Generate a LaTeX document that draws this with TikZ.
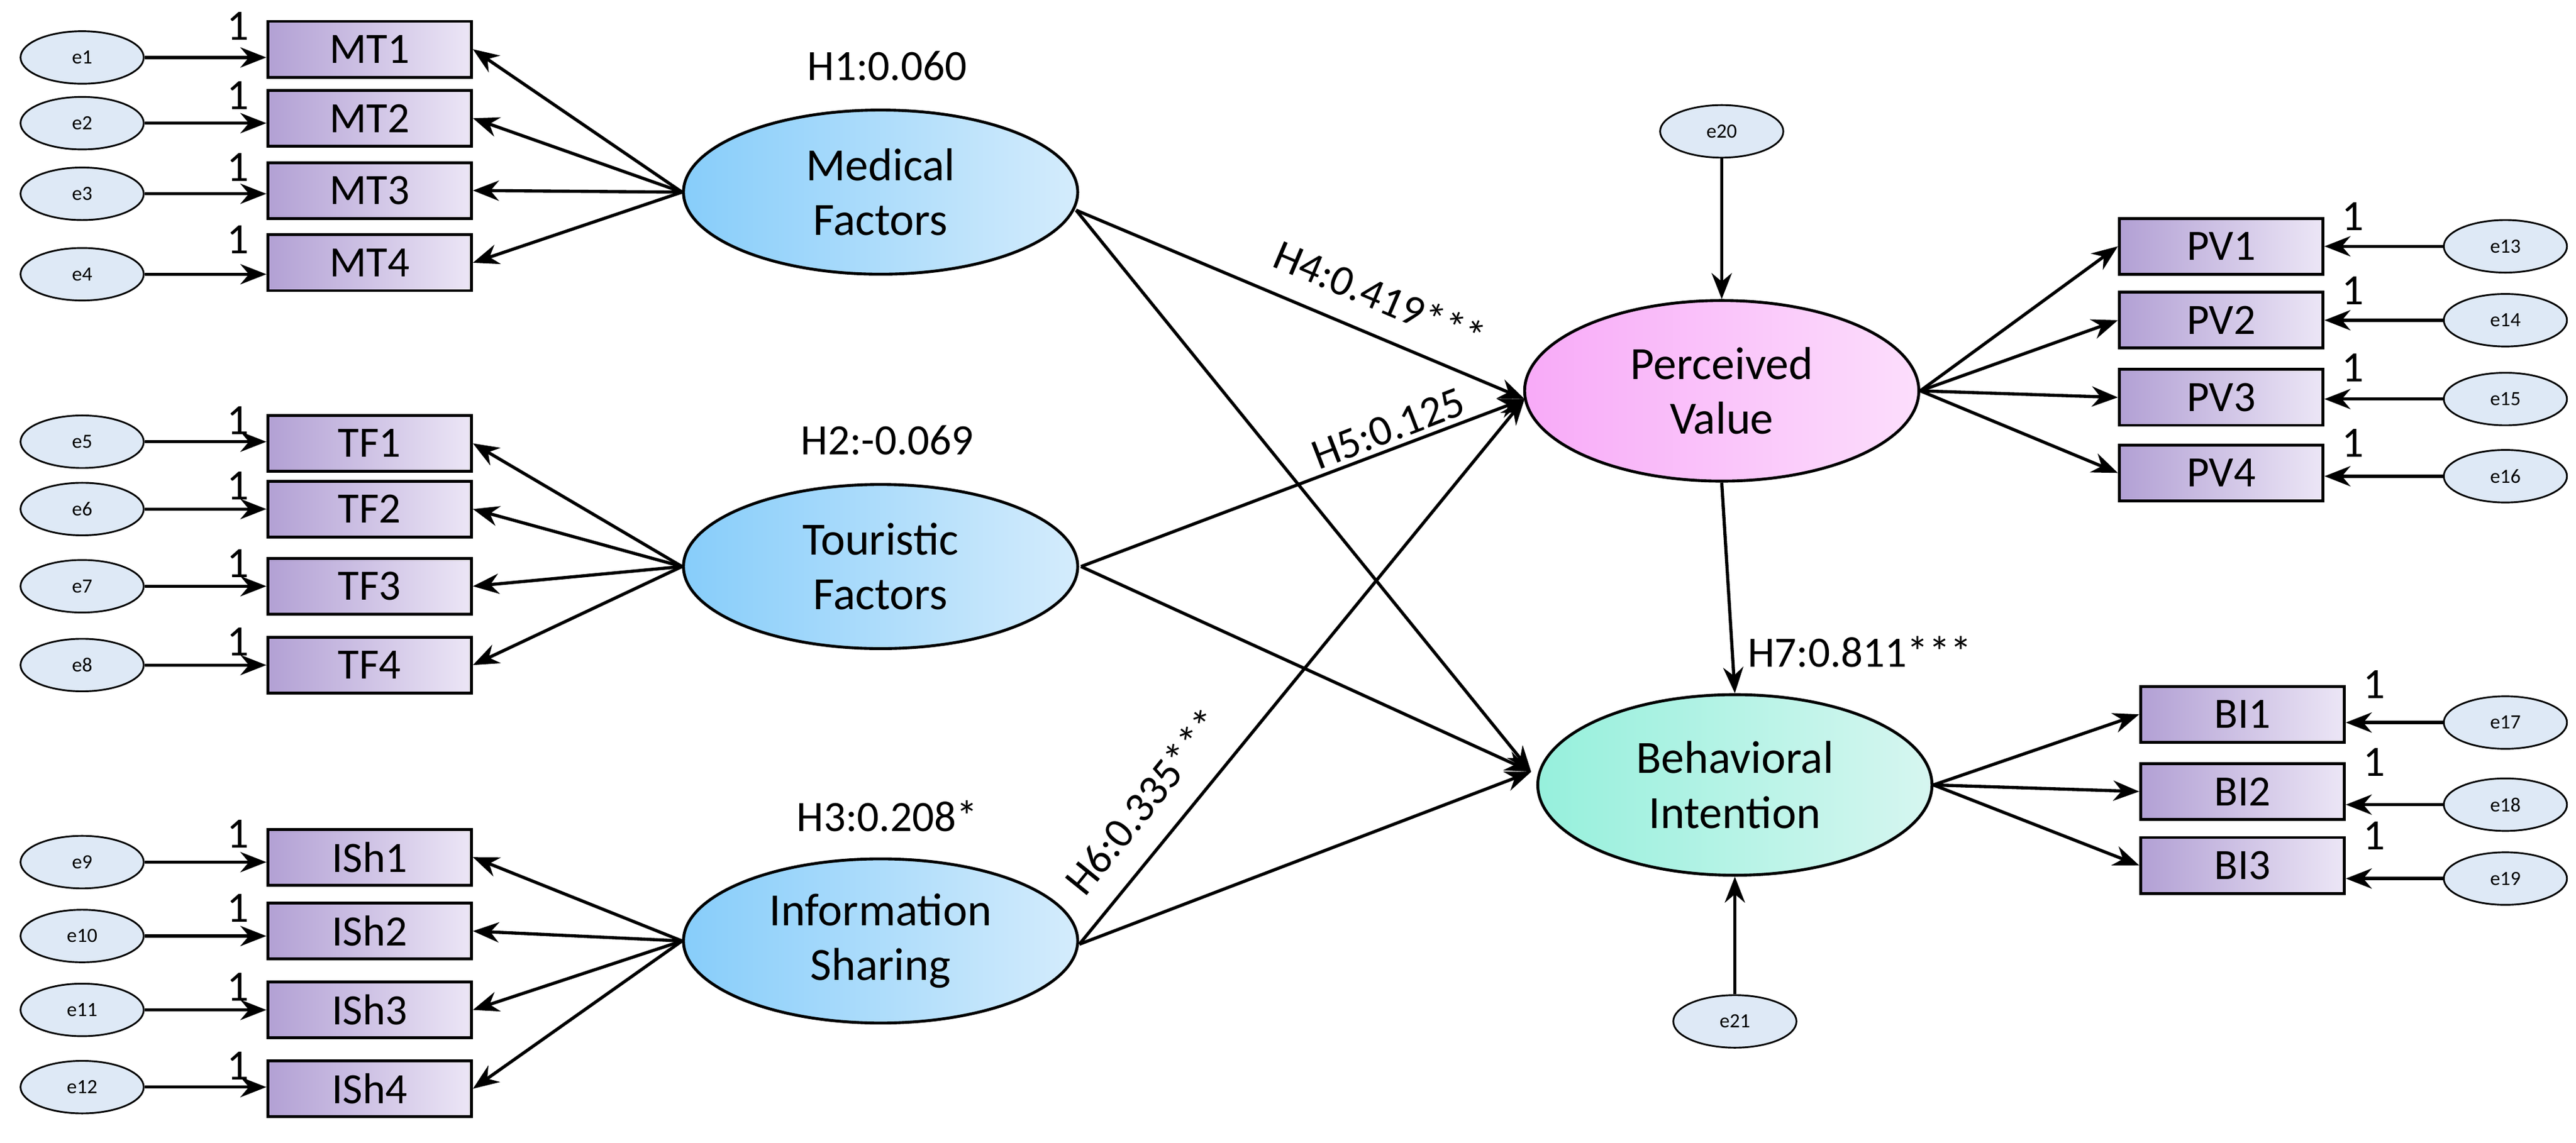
\documentclass[tikz,border=0pt]{standalone}
\usepackage{fontspec}
\setmainfont{Carlito}
\usetikzlibrary{arrows.meta,shapes.geometric}
\definecolor{boxL}{RGB}{178,160,212}
\definecolor{boxR}{RGB}{236,230,246}
\definecolor{errF}{RGB}{222,233,246}
\definecolor{bluL}{RGB}{135,205,250}
\definecolor{bluR}{RGB}{212,236,252}
\definecolor{pvL}{RGB}{248,170,248}
\definecolor{pvR}{RGB}{252,222,252}
\definecolor{biL}{RGB}{150,240,220}
\definecolor{biR}{RGB}{214,246,240}
\begin{document}
\begin{tikzpicture}[x=0.02cm,y=-0.02cm,
 box/.style={draw,line width=1pt,minimum width=2.48cm,minimum height=0.68cm,left color=boxL,right color=boxR,font=\fontsize{15}{15}\selectfont},
 err/.style={draw,ellipse,line width=0.6pt,minimum width=1.5cm,minimum height=0.64cm,fill=errF,font=\fontsize{7}{7}\selectfont},
 lat/.style={draw,ellipse,line width=1pt,minimum width=4.8cm,minimum height=2cm,align=center,font=\fontsize{16}{19}\selectfont},
 latb/.style={lat,left color=bluL,right color=bluR},
 arr/.style={-{Stealth[length=9pt,width=7pt]},line width=1.1pt},
 one/.style={font=\fontsize{15}{15}\selectfont},
 lab/.style={font=\fontsize{15}{15}\selectfont}]
\useasboundingbox (0,0) rectangle (1568,696);
% latent
\node[latb] (MF) at (536,117) {Medical\\Factors};
\node[latb] (TFa) at (536,345) {Touristic\\Factors};
\node[latb] (IS) at (536,573) {Information\\Sharing};
\node[lat,minimum height=2.2cm,left color=pvL,right color=pvR] (PV) at (1048,238) {Perceived\\Value};
\node[lat,minimum height=2.2cm,left color=biL,right color=biR] (BI) at (1056,478) {Behavioral\\Intention};
% left indicators
\foreach \n/\t/\y/\ey/\L in {1/MT1/30/35/MF,2/MT2/72/75/MF,3/MT3/116/118/MF,4/MT4/160/167/MF,
 5/TF1/270/269/TFa,6/TF2/310/310/TFa,7/TF3/357/357/TFa,8/TF4/405/405/TFa,
 9/ISh1/522/525/IS,10/ISh2/567/570/IS,11/ISh3/615/615/IS,12/ISh4/663/662/IS}{
 \node[box] (b\n) at (225,\y) {\t};
 \node[err] (e\n) at (50,\ey) {e\n};
 \draw[arr] (e\n) -- (b\n.west|-e\n);
 \node[one] at (145,\y-14) {1};
 \draw[arr] (\L.west) -- (b\n.east);
}
% right indicators
\foreach \n/\t/\y/\ey/\x/\L in {13/PV1/150/150/1352/PV,14/PV2/195/195/1352/PV,15/PV3/242/243/1352/PV,16/PV4/288/290/1352/PV,
 17/BI1/435/440/1365/BI,18/BI2/482/490/1365/BI,19/BI3/527/535/1365/BI}{
 \node[box] (b\n) at (\x,\y) {\t};
 \node[err] (e\n) at (1525,\ey) {e\n};
 \draw[arr] (e\n) -- (b\n.east|-e\n);
 \node[one] at (\x+80,\y-18) {1};
 \draw[arr] (\L.east) -- (b\n.west);
}
\node[err] (e20) at (1048,80) {e20};
\node[err] (e21) at (1056,622) {e21};
\draw[arr] (e20) -- (PV);
\draw[arr] (e21) -- (BI);
% structural
\coordinate (mfo) at (655,128);
\coordinate (tfo) at (658,345);
\coordinate (iso) at (657,575);
\coordinate (pvi) at (928,243);
\coordinate (bii) at (932,470);
\draw[arr] (mfo) -- (pvi);
\draw[arr] (mfo) -- (bii);
\draw[arr] (tfo) -- (pvi);
\draw[arr] (tfo) -- (bii);
\draw[arr] (iso) -- (pvi);
\draw[arr] (iso) -- (bii);
\draw[arr] (PV.south) -- (BI.north);
% labels
\node[lab] at (540,40) {H1:0.060};
\node[lab] at (540,268) {H2:-0.069};
\node[lab] at (540,497) {H3:0.208*};
\node[lab,rotate=-23] at (840,180) {H4:0.419***};
\node[lab,rotate=21] at (845,261) {H5:0.125};
\node[lab,rotate=51] at (696,488) {H6:0.335***};
\node[lab] at (1132,397) {H7:0.811***};
\end{tikzpicture}
\end{document}
